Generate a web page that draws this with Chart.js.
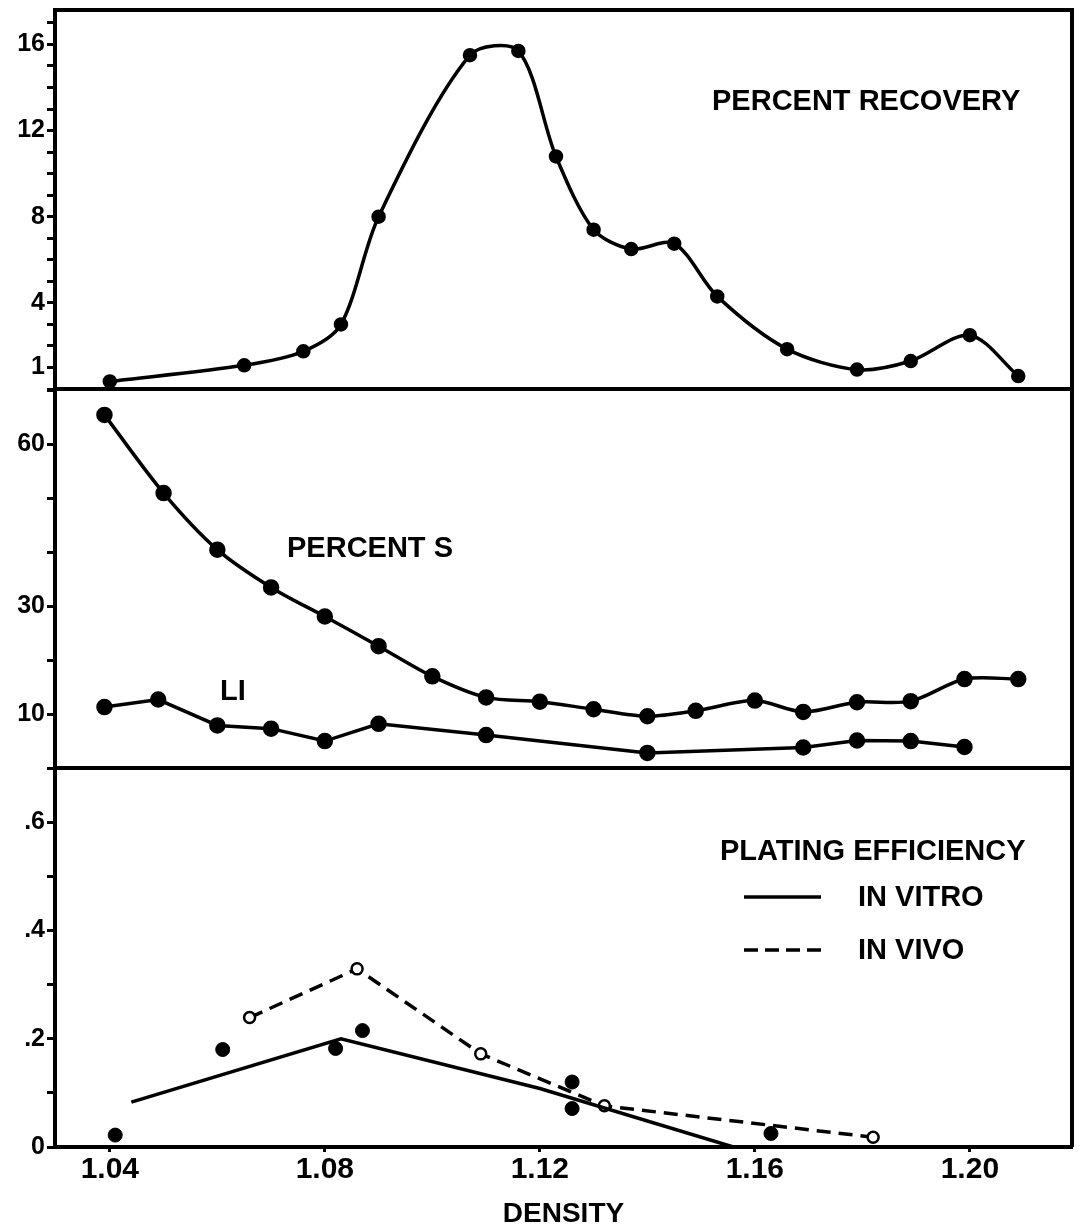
<!DOCTYPE html>
<html>
<head>
<meta charset="utf-8">
<script src="https://cdn.jsdelivr.net/npm/chart.js@4.4.0/dist/chart.umd.min.js"></script>
<style>
  html, body { margin: 0; padding: 0; background: #fff; }
</style>
</head>
<body>
<canvas id="grafico" width="1083" height="1229"></canvas>
<script>
// eje x: densidad
const xTicks = [1.04, 1.08, 1.12, 1.16, 1.20];

// panel superior: percent recovery
const recX = [1.040, 1.065, 1.076, 1.083, 1.090, 1.107, 1.116, 1.123, 1.130, 1.137, 1.145, 1.153, 1.166, 1.179, 1.189, 1.200, 1.209];
const recY = [0.35, 1.1, 1.75, 3.0, 8.0, 15.5, 15.7, 10.8, 7.4, 6.5, 6.75, 4.3, 1.85, 0.9, 1.3, 2.5, 0.6];
const recLabels = [1, 4, 8, 12, 16];

// panel central: percent S y LI
const sX = [1.039, 1.050, 1.060, 1.070, 1.080, 1.090, 1.100, 1.110, 1.120, 1.130, 1.140, 1.149, 1.160, 1.169, 1.179, 1.189, 1.199, 1.209];
const sY = [65.5, 51.0, 40.5, 33.5, 28.1, 22.6, 17.0, 13.1, 12.3, 10.9, 9.6, 10.6, 12.5, 10.4, 12.2, 12.4, 16.5, 16.5];
const liX = [1.039, 1.049, 1.060, 1.070, 1.080, 1.090, 1.110, 1.140, 1.169, 1.179, 1.189, 1.199];
const liY = [11.3, 12.7, 7.9, 7.3, 5.0, 8.2, 6.1, 2.8, 3.8, 5.1, 5.0, 3.9];
const pctLabels = [10, 30, 60];

// panel inferior: plating efficiency
const vitroLineX = [1.044, 1.083, 1.120, 1.156];
const vitroLineY = [0.083, 0.200, 0.108, 0];
const vitroX = [1.041, 1.061, 1.082, 1.087, 1.126, 1.126, 1.163];
const vitroY = [0.022, 0.180, 0.182, 0.215, 0.120, 0.071, 0.025];
const vivoX = [1.066, 1.086, 1.109, 1.132, 1.182];
const vivoY = [0.239, 0.329, 0.172, 0.076, 0.018];
const peLabels = [0, 0.2, 0.4, 0.6];

const fuente = "'Liberation Sans', Arial, sans-serif";
const negro = '#000';

function puntos(xs, ys) {
  return xs.map((x, i) => ({ x: x, y: ys[i] }));
}

function ejeY(min, max, paso, etiquetas, formato) {
  return {
    type: 'linear',
    position: 'left',
    stack: 'paneles',
    stackWeight: 1,
    offset: false,
    min: min,
    max: max,
    afterFit: s => {
      s.width = 55;
      s.paddingTop = 0;
      s.paddingBottom = 0;
    },
    ticks: {
      stepSize: paso,
      includeBounds: false,
      autoSkip: false,
      color: negro,
      padding: 2,
      font: { family: fuente, size: 25, weight: 'bold' },
      callback: v => etiquetas.some(e => Math.abs(e - v) < 1e-6) ? formato(v) : ''
    },
    grid: { drawOnChartArea: false, drawTicks: true, tickLength: 8, tickWidth: 3, tickColor: negro },
    border: { display: true, color: negro, width: 4 }
  };
}

// marco de los tres paneles, textos y leyenda
const marco = {
  id: 'marco',
  afterDraw(chart) {
    const c = chart.ctx;
    const a = chart.chartArea;
    c.save();
    c.strokeStyle = negro;
    c.lineWidth = 4;
    c.beginPath();
    c.moveTo(a.left, a.top);
    c.lineTo(a.right, a.top);
    c.lineTo(a.right, a.bottom);
    ['yRec', 'yPct'].forEach(id => {
      const s = chart.scales[id];
      c.moveTo(a.left, s.bottom);
      c.lineTo(a.right, s.bottom);
    });
    c.stroke();

    c.fillStyle = negro;
    c.textBaseline = 'middle';
    c.textAlign = 'left';
    c.font = "bold 29px " + fuente;
    c.fillText('PERCENT RECOVERY', 712, 102);
    c.fillText('PERCENT S', 287, 549);
    c.fillText('LI', 220, 692);
    c.fillText('PLATING EFFICIENCY', 720, 852);
    c.fillText('IN VITRO', 858, 898);
    c.fillText('IN VIVO', 858, 951);

    c.lineWidth = 3.5;
    c.beginPath();
    c.moveTo(744, 897);
    c.lineTo(821, 897);
    c.stroke();
    c.setLineDash([14, 7]);
    c.beginPath();
    c.moveTo(744, 950);
    c.lineTo(823, 950);
    c.stroke();
    c.restore();
  }
};

new Chart(document.getElementById('grafico'), {
  type: 'line',
  data: {
    datasets: [
      {
        label: 'PERCENT RECOVERY',
        data: puntos(recX, recY),
        yAxisID: 'yRec',
        borderColor: negro,
        backgroundColor: negro,
        borderWidth: 3.5,
        tension: 0.3,
        pointRadius: 5.5
      },
      {
        label: 'PERCENT S',
        data: puntos(sX, sY),
        yAxisID: 'yPct',
        borderColor: negro,
        backgroundColor: negro,
        borderWidth: 3.5,
        tension: 0.3,
        pointRadius: 6.5
      },
      {
        label: 'LI',
        data: puntos(liX, liY),
        yAxisID: 'yPct',
        borderColor: negro,
        backgroundColor: negro,
        borderWidth: 3.5,
        tension: 0,
        pointRadius: 6.5
      },
      {
        label: 'IN VITRO',
        data: puntos(vitroLineX, vitroLineY),
        yAxisID: 'yPE',
        borderColor: negro,
        borderWidth: 3.5,
        tension: 0,
        pointRadius: 0
      },
      {
        label: 'IN VITRO datos',
        data: puntos(vitroX, vitroY),
        yAxisID: 'yPE',
        showLine: false,
        backgroundColor: negro,
        borderColor: negro,
        pointRadius: 7
      },
      {
        label: 'IN VIVO',
        data: puntos(vivoX, vivoY),
        yAxisID: 'yPE',
        borderColor: negro,
        borderWidth: 3.5,
        borderDash: [14, 8],
        tension: 0,
        pointRadius: 5.5,
        pointBorderWidth: 2.5,
        pointBackgroundColor: '#fff',
        pointBorderColor: negro
      }
    ]
  },
  options: {
    responsive: false,
    animation: false,
    devicePixelRatio: 1,
    layout: { padding: { top: 9, right: 11, left: 0, bottom: 0 } },
    plugins: { legend: { display: false }, tooltip: { enabled: false } },
    scales: {
      x: {
        type: 'linear',
        min: 1.0298,
        max: 1.219,
        afterBuildTicks: s => { s.ticks = xTicks.map(v => ({ value: v })); },
        afterFit: s => {
          s.paddingLeft = 0;
          s.paddingRight = 0;
        },
        ticks: {
          autoSkip: false,
          maxRotation: 0,
          color: negro,
          padding: 0,
          font: { family: fuente, size: 30, weight: 'bold' },
          callback: v => v.toFixed(2)
        },
        grid: { drawOnChartArea: false, tickLength: 5, tickWidth: 3, tickColor: negro },
        border: { display: true, color: negro, width: 4 },
        title: {
          display: true,
          text: 'DENSITY',
          color: negro,
          font: { family: fuente, size: 28, weight: 'bold', lineHeight: 1 },
          padding: { top: 12, bottom: 1 }
        }
      },
      // el orden de definicion apila de abajo hacia arriba
      yPE: ejeY(0, 0.7, 0.1, peLabels, v => v === 0 ? '0' : '.' + Math.round(v * 10)),
      yPct: ejeY(0, 70.3, 10, pctLabels, v => String(v)),
      yRec: ejeY(0, 17.6, 1, recLabels, v => String(v))
    }
  },
  plugins: [marco]
});
</script>
</body>
</html>
